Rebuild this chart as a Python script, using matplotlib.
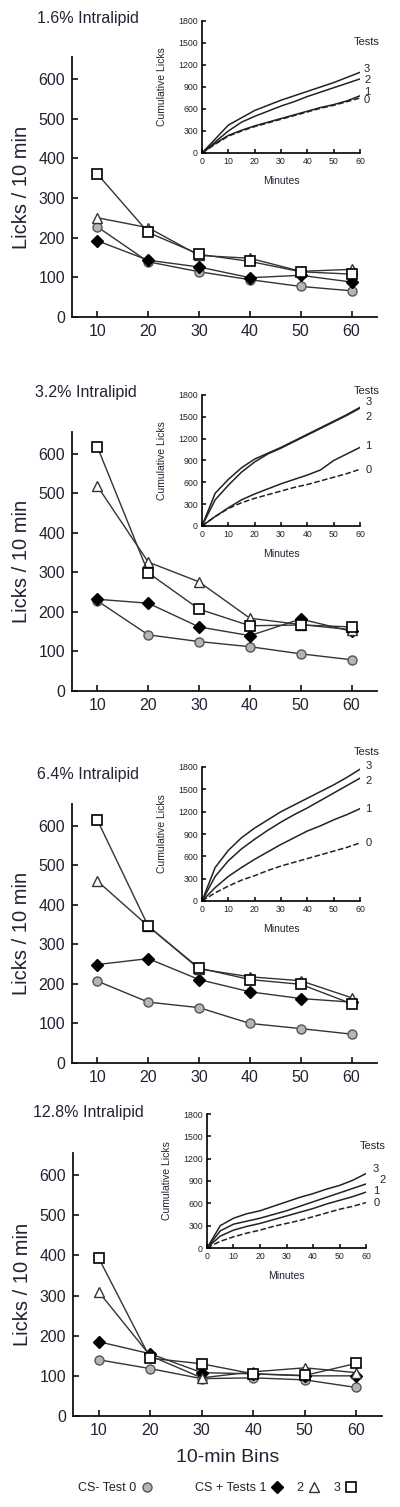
import matplotlib
matplotlib.use("Agg")
import matplotlib.pyplot as plt
from matplotlib.lines import Line2D

plt.rcParams['font.family'] = ['Liberation Sans', 'DejaVu Sans']
TXT = '#222233'

# ---------------- data ----------------
bins = [10, 20, 30, 40, 50, 60]
titles = ['1.6% Intralipid', '3.2% Intralipid', '6.4% Intralipid', '12.8% Intralipid']

# Licks / 10 min, per panel: Test 0 (CS-), Test 1, Test 2, Test 3 (CS+)
test0 = [[227, 139, 114, 94, 77, 66],
         [228, 142, 125, 112, 94, 79],
         [207, 154, 140, 100, 87, 73],
         [140, 118, 93, 95, 90, 71]]
test1 = [[192, 143, 126, 99, 105, 88],
         [232, 222, 162, 140, 182, 151],
         [249, 264, 211, 180, 163, 154],
         [185, 155, 108, 105, 100, 100]]
test2 = [[250, 225, 155, 148, 115, 120],
         [518, 326, 276, 184, 168, 155],
         [460, 346, 238, 218, 208, 165],
         [309, 150, 95, 110, 120, 108]]
test3 = [[360, 213, 158, 140, 114, 108],
         [617, 299, 207, 165, 167, 162],
         [614, 346, 240, 211, 199, 150],
         [393, 144, 130, 105, 101, 131]]

# Cumulative licks (insets)
minutes = [0, 5, 10, 15, 20, 25, 30, 35, 40, 45, 50, 55, 60]
cum0 = [[0, 120, 230, 300, 360, 410, 460, 510, 560, 610, 650, 700, 750],
        [0, 130, 240, 320, 380, 430, 480, 530, 570, 620, 670, 720, 780],
        [0, 110, 200, 280, 340, 410, 470, 520, 570, 620, 670, 720, 780],
        [0, 90, 150, 200, 240, 290, 330, 370, 420, 470, 520, 560, 610]]
cum1 = [[0, 130, 240, 310, 370, 420, 470, 520, 570, 620, 660, 710, 780],
        [0, 130, 250, 360, 440, 510, 580, 640, 700, 770, 900, 990, 1080],
        [0, 180, 330, 450, 560, 660, 760, 850, 940, 1010, 1090, 1160, 1240],
        [0, 160, 240, 290, 330, 380, 430, 480, 530, 590, 640, 690, 750]]
cum2 = [[0, 150, 300, 420, 500, 570, 640, 700, 770, 830, 890, 950, 1010],
        [0, 360, 560, 740, 880, 990, 1070, 1160, 1250, 1340, 1430, 1520, 1620],
        [0, 330, 540, 700, 830, 950, 1060, 1160, 1250, 1350, 1450, 1550, 1650],
        [0, 230, 320, 360, 400, 450, 500, 560, 620, 680, 740, 800, 860]]
cum3 = [[0, 190, 380, 480, 580, 650, 720, 780, 840, 900, 960, 1030, 1100],
        [0, 450, 640, 800, 920, 1000, 1080, 1170, 1260, 1350, 1440, 1530, 1630],
        [0, 450, 680, 850, 980, 1090, 1200, 1290, 1380, 1470, 1560, 1660, 1770],
        [0, 300, 400, 460, 500, 560, 620, 680, 730, 790, 840, 910, 1000]]

main_yticks = [0, 100, 200, 300, 400, 500, 600]
inset_yticks = [0, 300, 600, 900, 1200, 1500, 1800]
inset_xticks = [0, 10, 20, 30, 40, 50, 60]

# ---------------- layout (pixels) ----------------
W, H = 400, 1507
fig = plt.figure(figsize=(W / 100, H / 100), dpi=100)

def fr(left, top, right, bottom):
    return [left / W, 1 - bottom / H, (right - left) / W, (bottom - top) / H]

main_px = [(72, 57, 377, 317), (72, 432, 377, 691), (72, 804, 377, 1063), (73, 1153, 382, 1416)]
inset_px = [(202, 21, 360, 153), (202, 395, 360, 526), (202, 767, 360, 901), (207, 1114, 366, 1248)]
title_px = [(37, 18), (35, 393), (37, 774), (33, 1113)]
# text label positions within inset (data coords): Tests, 3, 2, 1, 0
lab_pos = [
    [(57.7, 1510), (61.5, 1150), (61.5, 1000), (61.5, 830), (61.5, 720)],
    [(57.5, 1850), (62.0, 1700), (62.0, 1500), (62.0, 1100), (62.0, 770)],
    [(57.5, 2000), (62.0, 1810), (62.0, 1610), (62.0, 1240), (62.0, 780)],
    [(57.5, 1370), (62.5, 1060), (65.0, 910), (62.5, 760), (63.0, 600)],
]

LC = '#333333'
mk_kw = [
    dict(marker='o', markersize=6.5, markerfacecolor='#b5b5b5', markeredgecolor='#555555', markeredgewidth=1.0),
    dict(marker='D', markersize=6.0, markerfacecolor='black', markeredgecolor='black', markeredgewidth=1.0),
    dict(marker='^', markersize=7.0, markerfacecolor='white', markeredgecolor='#333333', markeredgewidth=1.0),
    dict(marker='s', markersize=7.5, markerfacecolor='white', markeredgecolor='black', markeredgewidth=1.2),
]

for p in range(4):
    ax = fig.add_axes(fr(*main_px[p]))
    series = [test0[p], test1[p], test2[p], test3[p]]
    for i, s in enumerate(series):
        ax.plot(bins, s, color=LC, lw=1.0, zorder=2 + i, **mk_kw[i])
    ax.set_xlim(5, 65)
    ax.set_ylim(0, 655)
    ax.set_yticks(main_yticks)
    ax.set_xticks(bins)
    for sp in ['top', 'right']:
        ax.spines[sp].set_visible(False)
    for sp in ['left', 'bottom']:
        ax.spines[sp].set_linewidth(1.3)
        ax.spines[sp].set_color('#111111')
    ax.tick_params(direction='in', length=4, width=1.2, labelsize=11.5, pad=5, colors='#111111', labelcolor=TXT)
    ax.set_ylabel('Licks / 10 min', fontsize=14.5, color=TXT, labelpad=5)
    if p == 3:
        ax.set_xlabel('10-min Bins', fontsize=14, color=TXT, labelpad=8)
    fig.text(title_px[p][0] / W, 1 - title_px[p][1] / H, titles[p], fontsize=11.5,
             color=TXT, ha='left', va='center')

    ia = fig.add_axes(fr(*inset_px[p]))
    curves = [cum0[p], cum1[p], cum2[p], cum3[p]]
    for i, c in enumerate(curves):
        ia.plot(minutes, c, color='#222222', lw=1.1, ls='--' if i == 0 else '-')
    ia.set_xlim(0, 60)
    ia.set_ylim(0, 1800)
    ia.set_xticks(inset_xticks)
    ia.set_yticks(inset_yticks)
    for sp in ['top', 'right']:
        ia.spines[sp].set_visible(False)
    for sp in ['left', 'bottom']:
        ia.spines[sp].set_linewidth(1.2)
    ia.tick_params(direction='in', length=3, width=1.1, labelsize=6.3, pad=3, labelcolor=TXT)
    ia.set_xlabel('Minutes', fontsize=7.5, color=TXT, labelpad=7)
    ia.set_ylabel('Cumulative Licks', fontsize=7.5, color=TXT, labelpad=8)
    lp = lab_pos[p]
    ia.text(lp[0][0], lp[0][1], 'Tests', fontsize=8, color=TXT, ha='left', va='center', clip_on=False)
    for k, name in enumerate(['3', '2', '1', '0']):
        ia.text(lp[k + 1][0], lp[k + 1][1], name, fontsize=8, color=TXT, ha='left', va='center', clip_on=False)

# ---------------- legend ----------------
h = [Line2D([], [], ls='none', **mk_kw[i]) for i in range(4)]
leg1 = fig.legend(handles=[h[0]], labels=['CS- Test 0'], markerfirst=False, frameon=False,
                  loc='center left', bbox_to_anchor=(67 / W, 1 - 1488 / H), fontsize=9,
                  handlelength=1.0, handletextpad=0.3, labelcolor=TXT)
leg2 = fig.legend(handles=h[1:], labels=['CS + Tests 1', '2', '3'], markerfirst=False, frameon=False,
                  ncol=3, loc='center left', bbox_to_anchor=(184 / W, 1 - 1488 / H), fontsize=9,
                  handlelength=1.0, handletextpad=0.3, columnspacing=1.1, labelcolor=TXT)

fig.savefig('out.png', dpi=100)
